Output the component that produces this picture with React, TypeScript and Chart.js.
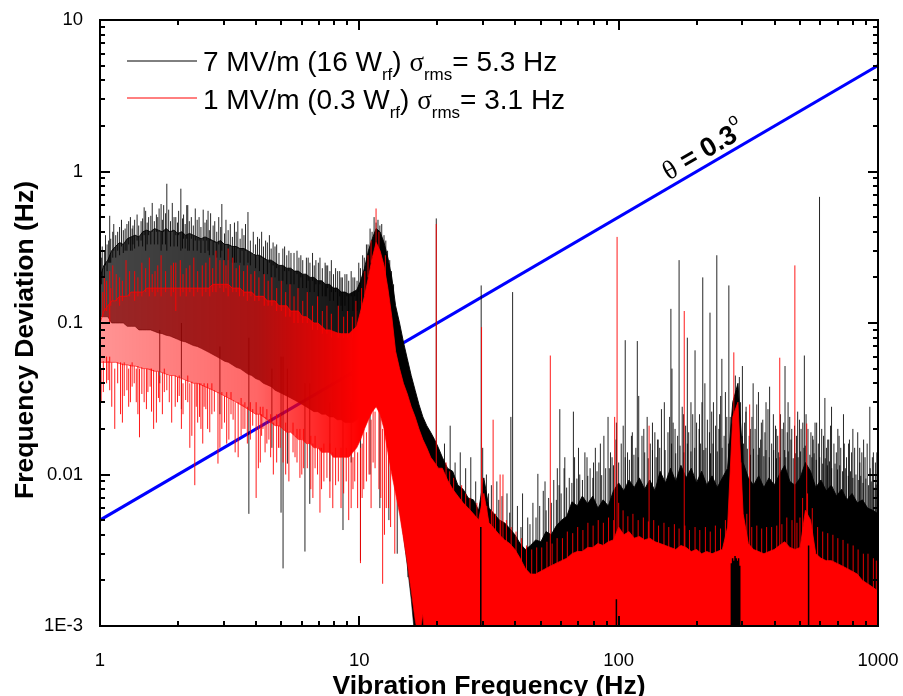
import React, { useEffect, useRef } from "react";
import { Chart, registerables } from "chart.js";

Chart.register(...registerables);

const FONT = '"Liberation Sans", Arial, sans-serif';
const SERIF = '"Liberation Serif", "Times New Roman", serif';

// ---------- spectrum envelopes (shared frequency grid, Hz) ----------
const freqHz = [
  1.0, 1.035, 1.072, 1.109, 1.148, 1.189, 1.23, 1.274, 1.318, 1.365,
  1.413, 1.462, 1.514, 1.567, 1.622, 1.679, 1.738, 1.799, 1.862, 1.928,
  1.995, 2.065, 2.138, 2.213, 2.291, 2.371, 2.455, 2.541, 2.63, 2.723,
  2.818, 2.917, 3.02, 3.126, 3.236, 3.35, 3.467, 3.589, 3.715, 3.846,
  3.981, 4.121, 4.266, 4.416, 4.571, 4.732, 4.898, 5.07, 5.248, 5.433,
  5.623, 5.821, 6.026, 6.237, 6.457, 6.683, 6.918, 7.161, 7.413, 7.674,
  7.943, 8.222, 8.511, 8.81, 9.12, 9.441, 9.772, 10.12, 10.47, 10.84,
  11.22, 11.61, 12.02, 12.45, 12.88, 13.34, 13.8, 14.29, 14.79, 15.31,
  15.85, 16.41, 16.98, 17.58, 18.2, 18.84, 19.5, 20.18,
  20.89, 21.88, 22.91, 23.99, 25.12, 26.3, 27.54, 28.84, 30.2, 31.62,
  33.11, 34.67, 36.31, 38.02, 39.81, 41.69, 43.65, 45.71, 47.86, 50.12,
  52.48, 54.95, 57.54, 60.26, 63.1, 66.07, 69.18, 72.44, 75.86, 79.43,
  83.18, 87.1, 91.2, 95.5, 100.0, 104.7, 109.6, 114.8, 120.2, 125.9,
  131.8, 138.0, 144.5, 151.4, 158.5, 166.0, 173.8, 182.0, 190.5, 199.5,
  208.9, 218.8, 229.1, 239.9, 251.2, 263.0, 275.4, 288.4, 302.0, 316.2,
  331.1, 346.7, 363.1, 380.2, 398.1, 416.9, 436.5, 457.1, 478.6, 501.2,
  524.8, 549.5, 575.4, 602.6, 631.0, 660.7, 691.8, 724.4, 758.6, 794.3,
  831.8, 871.0, 912.0, 955.0, 1000,
];

// 7 MV/m trace: upper and lower edge of the dense noise band (Hz)
const blackHi = [
  0.2, 0.24, 0.26, 0.3, 0.32, 0.34, 0.33, 0.36, 0.37, 0.38,
  0.37, 0.4, 0.41, 0.4, 0.42, 0.41, 0.4, 0.42, 0.4, 0.41,
  0.39, 0.4, 0.38, 0.39, 0.38, 0.37, 0.36, 0.37, 0.36, 0.35,
  0.34, 0.35, 0.33, 0.33, 0.32, 0.32, 0.31, 0.31, 0.3, 0.29,
  0.28, 0.28, 0.27, 0.26, 0.26, 0.25, 0.24, 0.24, 0.23, 0.23,
  0.22, 0.22, 0.21, 0.21, 0.2, 0.2, 0.19, 0.19, 0.18, 0.18,
  0.17, 0.17, 0.16, 0.16, 0.155, 0.16, 0.165, 0.19, 0.23, 0.3,
  0.36, 0.42, 0.4, 0.34, 0.27, 0.2, 0.13, 0.1, 0.075, 0.058,
  0.045, 0.036, 0.029, 0.024, 0.021, 0.019, 0.017, 0.015,
  0.013, 0.011, 0.0105, 0.0085, 0.008, 0.007, 0.0068, 0.0058, 0.0095, 0.006,
  0.0055, 0.005, 0.0048, 0.0044, 0.004, 0.0035, 0.0032, 0.0034, 0.0037, 0.0036,
  0.0042, 0.004, 0.0046, 0.005, 0.0053, 0.0066, 0.0062, 0.0072, 0.0064, 0.0072,
  0.006, 0.0068, 0.0062, 0.0078, 0.0088, 0.0078, 0.0092, 0.0082, 0.0095, 0.008,
  0.0092, 0.0078, 0.0105, 0.0088, 0.011, 0.009, 0.0115, 0.0095, 0.011, 0.0088,
  0.0105, 0.0085, 0.0098, 0.0082, 0.0095, 0.011, 0.03, 0.04, 0.012, 0.0095,
  0.0085, 0.0098, 0.0082, 0.0095, 0.0085, 0.01, 0.0115, 0.009, 0.0085, 0.0095,
  0.012, 0.0105, 0.0082, 0.0092, 0.0078, 0.0085, 0.0072, 0.008, 0.0068, 0.0075,
  0.0065, 0.0068, 0.006, 0.0058, 0.0055,
];
const blackLo = [
  0.11, 0.11, 0.11, 0.1, 0.1, 0.1, 0.1, 0.095, 0.095, 0.095,
  0.09, 0.09, 0.09, 0.09, 0.088, 0.086, 0.085, 0.083, 0.082, 0.08,
  0.078, 0.076, 0.075, 0.073, 0.071, 0.07, 0.068, 0.066, 0.064, 0.062,
  0.06, 0.058, 0.056, 0.055, 0.053, 0.051, 0.05, 0.048, 0.046, 0.045,
  0.043, 0.042, 0.04, 0.039, 0.038, 0.036, 0.035, 0.034, 0.033, 0.032,
  0.031, 0.03, 0.029, 0.028, 0.027, 0.026, 0.026, 0.025, 0.025, 0.024,
  0.024, 0.023, 0.023, 0.022, 0.022, 0.022, 0.023, 0.025, 0.028, 0.03,
  0.033, 0.034, 0.032, 0.025, 0.02, 0.014, 0.009, 0.006, 0.004, 0.0025,
  0.0015, 0.0008, 0.0001, 0.0001, 0.0001, 0.0001, 0.0001, 0.0001,
  0.0001, 0.0001, 0.0001, 0.0001, 0.0001, 0.0001, 0.0001, 0.0001, 0.0001, 0.0001,
  0.0001, 0.0001, 0.0001, 0.0001, 0.0001, 0.0001, 0.0001, 0.0001, 0.0001, 0.0001,
  0.0001, 0.0001, 0.0001, 0.0001, 0.0001, 0.0001, 0.0001, 0.0001, 0.0001, 0.0001,
  0.0001, 0.0001, 0.0001, 0.0001, 0.0001, 0.0001, 0.0001, 0.0001, 0.0001, 0.0001,
  0.0001, 0.0001, 0.0001, 0.0001, 0.0001, 0.0001, 0.0001, 0.0001, 0.0001, 0.0001,
  0.0001, 0.0001, 0.0001, 0.0001, 0.0001, 0.0001, 0.0001, 0.0001, 0.0001, 0.0001,
  0.0001, 0.0001, 0.0001, 0.0001, 0.0001, 0.0001, 0.0001, 0.0001, 0.0001, 0.0001,
  0.0001, 0.0001, 0.0001, 0.0001, 0.0001, 0.0001, 0.0001, 0.0001, 0.0001, 0.0001,
  0.0001, 0.0001, 0.0001, 0.0001, 0.0001,
];

// 1 MV/m trace
const redHi = [
  0.1, 0.12, 0.13, 0.14, 0.14, 0.15, 0.15, 0.15, 0.16, 0.16,
  0.16, 0.16, 0.17, 0.17, 0.17, 0.17, 0.17, 0.17, 0.17, 0.17,
  0.17, 0.17, 0.17, 0.17, 0.17, 0.17, 0.17, 0.17, 0.17, 0.18,
  0.18, 0.18, 0.18, 0.18, 0.17, 0.17, 0.17, 0.16, 0.16, 0.16,
  0.15, 0.15, 0.15, 0.14, 0.14, 0.14, 0.13, 0.13, 0.13, 0.12,
  0.12, 0.12, 0.11, 0.11, 0.105, 0.1, 0.1, 0.095, 0.09, 0.09,
  0.088, 0.086, 0.085, 0.085, 0.085, 0.09, 0.095, 0.12, 0.15, 0.2,
  0.27, 0.34, 0.3, 0.24, 0.17, 0.11, 0.065, 0.05, 0.04, 0.034,
  0.028, 0.024, 0.02, 0.017, 0.015, 0.013, 0.012, 0.011,
  0.011, 0.0092, 0.008, 0.0072, 0.0065, 0.006, 0.0055, 0.005, 0.0075, 0.0048,
  0.0044, 0.004, 0.0037, 0.0035, 0.0032, 0.0028, 0.0024, 0.0022, 0.0022, 0.0023,
  0.0024, 0.0025, 0.0026, 0.0027, 0.0028, 0.003, 0.0031, 0.0031, 0.0033, 0.0033,
  0.0035, 0.0034, 0.0036, 0.0037, 0.0045, 0.004, 0.0042, 0.0038, 0.0039, 0.0037,
  0.0038, 0.0036, 0.0035, 0.0034, 0.0033, 0.0032, 0.0034, 0.0033, 0.0031, 0.0032,
  0.003, 0.0031, 0.003, 0.0031, 0.0032, 0.0045, 0.024, 0.03, 0.0055, 0.0035,
  0.0032, 0.0031, 0.003, 0.0031, 0.0032, 0.0034, 0.0036, 0.0033, 0.0032, 0.0033,
  0.0058, 0.005, 0.003, 0.0028, 0.0027, 0.0027, 0.0026, 0.0025, 0.0024, 0.0023,
  0.0022, 0.002, 0.0019, 0.0018, 0.0017,
];
const redLo = [
  0.055, 0.055, 0.055, 0.055, 0.055, 0.054, 0.053, 0.053, 0.052, 0.052,
  0.051, 0.05, 0.05, 0.049, 0.048, 0.048, 0.047, 0.046, 0.045, 0.045,
  0.044, 0.043, 0.042, 0.041, 0.04, 0.04, 0.039, 0.038, 0.037, 0.036,
  0.035, 0.034, 0.033, 0.032, 0.031, 0.03, 0.029, 0.028, 0.027, 0.026,
  0.025, 0.025, 0.024, 0.023, 0.022, 0.021, 0.021, 0.02, 0.019, 0.019,
  0.018, 0.017, 0.017, 0.016, 0.016, 0.015, 0.015, 0.014, 0.014, 0.014,
  0.013, 0.013, 0.013, 0.013, 0.013, 0.014, 0.015, 0.017, 0.02, 0.023,
  0.026, 0.028, 0.025, 0.02, 0.014, 0.01, 0.0075, 0.0055, 0.0038, 0.0026,
  0.0017, 0.0011, 0.0008, 0.0012, 0.0005, 0.0009, 0.0003, 0.0001,
  0.0001, 0.0001, 0.0001, 0.0001, 0.0001, 0.0001, 0.0001, 0.0001, 0.0001, 0.0001,
  0.0001, 0.0001, 0.0001, 0.0001, 0.0001, 0.0001, 0.0001, 0.0001, 0.0001, 0.0001,
  0.0001, 0.0001, 0.0001, 0.0001, 0.0001, 0.0001, 0.0001, 0.0001, 0.0001, 0.0001,
  0.0001, 0.0001, 0.0001, 0.0001, 0.0001, 0.0001, 0.0001, 0.0001, 0.0001, 0.0001,
  0.0001, 0.0001, 0.0001, 0.0001, 0.0001, 0.0001, 0.0001, 0.0001, 0.0001, 0.0001,
  0.0001, 0.0001, 0.0001, 0.0001, 0.0001, 0.0001, 0.0018, 0.0018, 0.0001, 0.0001,
  0.0001, 0.0001, 0.0001, 0.0001, 0.0001, 0.0001, 0.0001, 0.0001, 0.0001, 0.0001,
  0.0001, 0.0001, 0.0001, 0.0001, 0.0001, 0.0001, 0.0001, 0.0001, 0.0001, 0.0001,
  0.0001, 0.0001, 0.0001, 0.0001, 0.0001,
];

// ---------- individual lines of the 7 MV/m trace ----------
const blackPeakHz = [
  1.02, 1.05, 1.08, 1.09, 1.13, 1.17, 1.21, 1.25, 1.29, 1.31, 1.34, 1.39, 1.44, 1.48, 1.5, 1.54, 1.59, 1.65, 1.69, 1.72,
  1.76, 1.81, 1.84, 1.9, 1.96, 2.01, 2.05, 2.1, 2.16, 2.18, 2.25, 2.33, 2.41, 2.5, 2.58, 2.61, 2.67, 2.77, 2.87, 2.95,
  3.06, 3.18, 3.3, 3.4, 3.53, 3.64, 3.72, 3.9, 4.05, 4.2, 4.35, 4.5, 4.65, 4.8, 5.15, 5.35, 5.6, 5.75, 5.95, 6.35,
  6.6, 6.8, 7.05, 7.38, 7.55, 7.8, 8.1, 8.4, 8.6, 8.95, 9.3, 9.6, 9.95, 10.3, 10.65, 11.0, 11.4, 11.8, 12.2, 12.65,
  13.1, 13.55,
];
const blackPeakTop = [
  0.32, 0.38, 0.35, 0.51, 0.45, 0.4, 0.48, 0.42, 0.47, 0.5, 0.44, 0.52, 0.47, 0.58, 0.55, 0.5, 0.62, 0.52, 0.57, 0.61,
  0.6, 0.83, 0.56, 0.62, 0.5, 0.55, 0.77, 0.52, 0.6, 0.6, 0.5, 0.57, 0.5, 0.56, 0.48, 0.55, 0.53, 0.47, 0.5, 0.61,
  0.48, 0.45, 0.46, 0.47, 0.42, 0.45, 0.54, 0.4, 0.37, 0.4, 0.35, 0.38, 0.34, 0.33, 0.32, 0.3, 0.29, 0.3, 0.28, 0.27,
  0.29, 0.26, 0.27, 0.25, 0.24, 0.26, 0.23, 0.22, 0.2, 0.21, 0.22, 0.2, 0.25, 0.28, 0.33, 0.42, 0.5, 0.48, 0.45, 0.35,
  0.26, 0.18,
];
const blackPeakBase = [
  0.2, 0.24, 0.25, 0.25, 0.3, 0.3, 0.32, 0.3, 0.33, 0.3, 0.33, 0.35, 0.35, 0.38, 0.3, 0.38, 0.4, 0.4, 0.4, 0.3,
  0.4, 0.3, 0.4, 0.4, 0.38, 0.38, 0.3, 0.36, 0.36, 0.3, 0.36, 0.35, 0.35, 0.35, 0.35, 0.3, 0.35, 0.34, 0.33, 0.3,
  0.33, 0.32, 0.25, 0.31, 0.3, 0.3, 0.25, 0.29, 0.28, 0.27, 0.26, 0.25, 0.24, 0.23, 0.22, 0.22, 0.18, 0.21, 0.2, 0.19,
  0.19, 0.18, 0.18, 0.15, 0.17, 0.16, 0.16, 0.15, 0.12, 0.15, 0.15, 0.15, 0.16, 0.2, 0.25, 0.3, 0.38, 0.38, 0.35, 0.25,
  0.17, 0.12,
];
const blackHairHz = [
  1.015, 1.04, 1.065, 1.1, 1.12, 1.15, 1.19, 1.23, 1.27, 1.33, 1.36, 1.41, 1.46, 1.52, 1.57, 1.62, 1.67, 1.74, 1.79, 1.87,
  1.93, 1.99, 2.08, 2.13, 2.21, 2.29, 2.37, 2.45, 2.54, 2.64, 2.73, 2.82, 2.92, 3.02, 3.12, 3.24, 3.35, 3.47, 3.59, 3.8,
  3.98, 4.12, 4.27, 4.42, 4.57, 4.73, 4.9, 5.07, 5.25, 5.45, 5.85, 6.05, 6.25, 6.45, 6.7, 6.95, 7.2, 7.45, 7.7, 7.95,
  8.25, 8.5, 8.8, 9.1, 9.45, 9.8, 10.1, 10.45, 10.8, 11.2, 11.6, 12.0, 12.45, 12.85, 13.3,
];
const blackHairTop = [
  0.27, 0.3, 0.33, 0.36, 0.4, 0.38, 0.43, 0.41, 0.45, 0.42, 0.48, 0.44, 0.49, 0.46, 0.51, 0.47, 0.5, 0.48, 0.53, 0.47,
  0.5, 0.46, 0.49, 0.45, 0.47, 0.44, 0.48, 0.43, 0.46, 0.41, 0.44, 0.4, 0.43, 0.39, 0.41, 0.37, 0.4, 0.36, 0.38, 0.35,
  0.33, 0.36, 0.32, 0.34, 0.31, 0.32, 0.29, 0.31, 0.28, 0.29, 0.27, 0.26, 0.27, 0.25, 0.24, 0.25, 0.23, 0.24, 0.22, 0.21,
  0.22, 0.2, 0.21, 0.19, 0.2, 0.19, 0.23, 0.27, 0.33, 0.4, 0.46, 0.44, 0.38, 0.3, 0.22,
];
const blackHairBase = [
  0.18, 0.2, 0.22, 0.25, 0.27, 0.27, 0.28, 0.29, 0.3, 0.3, 0.31, 0.32, 0.32, 0.33, 0.33, 0.33, 0.33, 0.33, 0.33, 0.32,
  0.32, 0.32, 0.31, 0.31, 0.3, 0.3, 0.3, 0.29, 0.29, 0.28, 0.28, 0.27, 0.27, 0.26, 0.26, 0.25, 0.25, 0.25, 0.24, 0.24,
  0.23, 0.22, 0.21, 0.21, 0.2, 0.2, 0.19, 0.19, 0.18, 0.18, 0.17, 0.17, 0.17, 0.16, 0.16, 0.15, 0.15, 0.15, 0.14, 0.14,
  0.13, 0.13, 0.13, 0.12, 0.12, 0.12, 0.14, 0.17, 0.22, 0.27, 0.32, 0.32, 0.28, 0.2, 0.14,
];
const blackDipHz = [1.7, 2.06, 2.9, 3.75, 4.6, 4.99, 5.08, 5.28, 6.17, 6.44, 7.7, 8.65, 9.3, 10.1, 11.0, 12.0, 13.0, 14.0, 15.4];
const blackDipTop = [0.09, 0.1, 0.07, 0.08, 0.05, 0.06, 0.06, 0.05, 0.04, 0.04, 0.03, 0.03, 0.03, 0.03, 0.03, 0.03, 0.02, 0.012, 0.01];
const blackDipBottom = [0.04, 0.027, 0.025, 0.0055, 0.015, 0.0056, 0.0024, 0.0118, 0.0031, 0.0064, 0.009, 0.0043, 0.012, 0.0027, 0.01, 0.006, 0.005, 0.003, 0.0021];
const blackSpikeHz = [
  19.8, 29.5, 38.4, 39, 42.6, 48.8, 52, 58, 59.3, 62, 66.9, 70, 75.5, 80, 85, 91, 93, 98, 106, 112,
  118, 119.5, 125, 135, 142, 150, 159, 160.5, 165, 171, 178, 184, 190, 197, 205, 211, 215, 225, 232, 239,
  245, 250, 258, 266, 292, 300, 310, 322, 330, 346, 355, 370, 382, 395, 405, 438, 450, 465, 490, 505,
  520, 560, 580, 595, 624, 640, 662, 700, 736, 770, 800, 850, 880, 930, 960,
];
const blackSpikeTop = [
  0.49, 0.177, 0.024, 0.16, 0.0075, 0.0101, 0.009, 0.011, 0.027, 0.013, 0.026, 0.015, 0.013, 0.012, 0.016, 0.024, 0.014, 0.022, 0.077, 0.018,
  0.076, 0.033, 0.02, 0.022, 0.017, 0.03, 0.124, 0.05, 0.02, 0.26, 0.025, 0.08, 0.03, 0.066, 0.025, 0.2, 0.04, 0.117, 0.03, 0.28,
  0.025, 0.058, 0.035, 0.177, 0.044, 0.052, 0.028, 0.02, 0.04, 0.035, 0.022, 0.03, 0.038, 0.025, 0.02, 0.052, 0.03, 0.02, 0.026, 0.02,
  0.061, 0.018, 0.022, 0.68, 0.032, 0.017, 0.028, 0.02, 0.025, 0.016, 0.02, 0.015, 0.017, 0.028, 0.014,
];
const blackFuzzHz = [
  21.3, 22.4, 23.4, 24.5, 25.7, 26.9, 28.1, 29.9, 30.9, 32.3,
  33.9, 35.5, 37.1, 40.7, 44.6, 46.7, 49.6, 51.2, 53.7, 56.2,
  58.9, 61.6, 64.5, 67.6, 70.8, 74.1, 77.6, 81.3, 83.9, 87.7,
  89.1, 94.3, 97.7, 102.3, 104.1, 108.2, 112.9, 116.5, 123, 128.8,
  132.4, 137.9, 141.3, 146.2, 154.9, 157.2, 162.2, 168.8, 175.8, 181.2,
  186.2, 193, 199.7, 204.2, 209.5, 219.8, 223.9, 228.4, 236.4, 243.5,
  247.3, 255, 261.2, 269.2, 281.8, 295.1, 306, 309.5, 318.6, 326.6,
  335.8, 340.8, 352.8, 359.5, 366.5, 376.5, 389, 402.4, 410.6, 420.6,
  426.6, 432.7, 446.7, 456.7, 461.7, 476.7, 484.8, 497.9, 512.9, 528,
  537, 551.3, 562.3, 571.8, 588.8, 606.6, 616.6, 632.7, 645.7, 656.1,
  676.1, 690.9, 707.9, 718.3, 741.3, 756.2, 776.2, 790.8, 812.8, 835.1,
  851.1, 866.3, 891.3, 908.3, 933.3, 951.2, 977.2, 990,
];
const blackFuzzTop = [
  0.016, 0.021, 0.012, 0.014, 0.011, 0.013, 0.009, 0.015, 0.01, 0.0085,
  0.009, 0.0072, 0.0075, 0.0062, 0.0052, 0.0065, 0.0062, 0.0078, 0.007, 0.0092,
  0.0085, 0.011, 0.0095, 0.013, 0.01, 0.014, 0.011, 0.015, 0.012, 0.018,
  0.011, 0.013, 0.017, 0.016, 0.021, 0.014, 0.019, 0.015, 0.018, 0.024,
  0.016, 0.019, 0.017, 0.027, 0.019, 0.024, 0.022, 0.018, 0.028, 0.021,
  0.019, 0.025, 0.022, 0.02, 0.03, 0.023, 0.019, 0.026, 0.021, 0.02,
  0.033, 0.018, 0.024, 0.024, 0.045, 0.03, 0.022, 0.026, 0.018, 0.024,
  0.02, 0.029, 0.017, 0.023, 0.019, 0.027, 0.016, 0.021, 0.018, 0.025,
  0.02, 0.022, 0.019, 0.024, 0.017, 0.021, 0.018, 0.023, 0.022, 0.025,
  0.02, 0.019, 0.017, 0.022, 0.016, 0.02, 0.018, 0.015, 0.017, 0.021,
  0.016, 0.014, 0.018, 0.015, 0.016, 0.013, 0.017, 0.014, 0.015, 0.019,
  0.012, 0.014, 0.013, 0.016, 0.011, 0.013, 0.012, 0.014,
];
const blackGrassHz = [
  31.5, 34.5, 38, 42, 45.5, 48, 52.5, 55, 57.5, 60,
  63, 66, 69, 72.5, 76, 79.5, 82.5, 86, 92, 95.5,
  100, 106, 110, 114.5, 119, 126, 130, 135, 139.5, 144,
  151, 160, 166, 172.5, 178.5, 184, 190, 196.5, 207, 213,
  217, 226, 231, 240, 250.5, 265, 300, 303, 313.5, 322.5,
  331, 345, 349, 363, 370, 381, 396, 406, 414, 418,
  436.5, 441, 451, 471, 480, 492, 503, 518, 524, 546,
  556, 567, 578, 596, 612, 626, 638, 650, 663, 683,
  698, 712, 730, 748, 768, 783, 800, 822, 843, 858,
  875, 898, 920, 942, 965, 984,
];
const blackGrassTop = [
  0.0075, 0.0068, 0.0056, 0.0045, 0.0047, 0.0052, 0.0058, 0.0065, 0.0068, 0.0075,
  0.0082, 0.0088, 0.0094, 0.0092, 0.0098, 0.0095, 0.0105, 0.0099, 0.011, 0.0115,
  0.012, 0.013, 0.0125, 0.0135, 0.013, 0.014, 0.0128, 0.0145, 0.013, 0.015,
  0.0145, 0.016, 0.0138, 0.0155, 0.014, 0.016, 0.0142, 0.015, 0.016, 0.0145,
  0.015, 0.0138, 0.016, 0.0142, 0.015, 0.016, 0.018, 0.016, 0.0148, 0.0135,
  0.0148, 0.0135, 0.015, 0.0132, 0.0145, 0.013, 0.0145, 0.0128, 0.014, 0.013,
  0.0145, 0.013, 0.0142, 0.0128, 0.0138, 0.013, 0.0142, 0.015, 0.0155, 0.0135,
  0.013, 0.0138, 0.0125, 0.013, 0.0118, 0.0128, 0.0115, 0.0122, 0.011, 0.0118,
  0.0108, 0.0115, 0.0105, 0.011, 0.0098, 0.0105, 0.0095, 0.01, 0.0092, 0.0098,
  0.0088, 0.0094, 0.0085, 0.009, 0.0082, 0.0086,
];
// narrow places where the 1 MV/m trace drops and the 7 MV/m trace shows through
const blackGapHz = [29.4, 98, 272, 275, 278, 281, 284, 287, 290, 293, 540];
const blackGapTop = [0.0045, 0.0015, 0.0026, 0.0028, 0.0027, 0.0029, 0.0028, 0.0027, 0.0028, 0.0025, 0.0034];

// ---------- individual lines of the 1 MV/m trace ----------
const redPeakHz = [
  1.04, 1.09, 1.12, 1.19, 1.26, 1.36, 1.45, 1.55, 1.63, 1.72, 1.88, 1.96, 2.04, 2.15, 2.3, 2.48, 2.65, 2.8, 3.0, 3.12,
  3.25, 3.45, 3.7, 3.95, 4.3, 4.6, 5.0, 5.4, 5.8, 6.3, 6.9, 7.5, 8.3, 9.0, 9.7, 10.5, 11.1, 11.6, 11.9, 12.6,
];
const redPeakTop = [
  0.2, 0.22, 0.24, 0.2, 0.26, 0.22, 0.25, 0.27, 0.22, 0.28, 0.24, 0.25, 0.26, 0.23, 0.27, 0.24, 0.27, 0.3, 0.26, 0.31,
  0.27, 0.24, 0.24, 0.22, 0.21, 0.2, 0.19, 0.18, 0.17, 0.16, 0.15, 0.13, 0.13, 0.12, 0.14, 0.22, 0.35, 0.57, 0.4, 0.28,
];
const redPeakBase = [
  0.12, 0.1, 0.14, 0.13, 0.15, 0.14, 0.15, 0.15, 0.15, 0.15, 0.15, 0.12, 0.15, 0.15, 0.15, 0.15, 0.15, 0.16, 0.16, 0.15,
  0.16, 0.15, 0.14, 0.14, 0.13, 0.13, 0.12, 0.11, 0.1, 0.1, 0.09, 0.085, 0.08, 0.08, 0.09, 0.15, 0.25, 0.3, 0.3, 0.2,
];
const redHairUpHz = [
  1.025, 1.06, 1.1, 1.155, 1.22, 1.3, 1.4, 1.5, 1.59, 1.67, 1.79, 1.92, 2.09, 2.22, 2.38, 2.56, 2.72, 2.9, 3.06, 3.35,
  3.58, 3.82, 4.1, 4.45, 4.8, 5.2, 5.6, 6.05, 6.6, 7.2, 7.8, 8.7, 9.4, 10.2, 10.8,
];
const redHairUpTop = [
  0.16, 0.19, 0.17, 0.21, 0.19, 0.22, 0.2, 0.23, 0.21, 0.24, 0.22, 0.25, 0.21, 0.24, 0.22, 0.25, 0.23, 0.26, 0.24, 0.23,
  0.22, 0.21, 0.2, 0.19, 0.17, 0.16, 0.15, 0.14, 0.13, 0.12, 0.115, 0.11, 0.11, 0.17, 0.28,
];
const redHairUpBase = [
  0.11, 0.12, 0.13, 0.14, 0.14, 0.15, 0.15, 0.16, 0.16, 0.16, 0.16, 0.16, 0.16, 0.16, 0.16, 0.16, 0.16, 0.17, 0.17, 0.16,
  0.15, 0.15, 0.14, 0.13, 0.12, 0.11, 0.1, 0.1, 0.09, 0.085, 0.08, 0.08, 0.08, 0.12, 0.2,
];
const redDipHz = [
  1.01, 1.06, 1.09, 1.14, 1.2, 1.24, 1.29, 1.33, 1.38, 1.42, 1.48, 1.53, 1.58, 1.65, 1.7, 1.77, 1.85, 1.95, 2.02, 2.09,
  2.18, 2.22, 2.32, 2.38, 2.45, 2.52, 2.6, 2.7, 2.85, 2.95, 3.08, 3.2, 3.32, 3.5, 3.62, 3.8, 4.0, 4.15, 4.25, 4.4,
  4.55, 4.8, 4.95, 5.2, 5.55, 5.75, 5.9, 6.1, 6.5, 6.75, 7.05, 7.3, 7.7, 8.1, 8.5, 8.9, 9.3, 9.6, 10.1, 10.4,
  10.9, 11.3, 11.9, 12.3, 12.7, 13.2, 13.7,
];
const redDipTop = [
  0.05, 0.06, 0.06, 0.05, 0.055, 0.055, 0.05, 0.055, 0.05, 0.05, 0.05, 0.05, 0.05, 0.048, 0.045, 0.05, 0.045, 0.045, 0.045, 0.04,
  0.045, 0.04, 0.04, 0.04, 0.04, 0.04, 0.04, 0.04, 0.035, 0.035, 0.035, 0.035, 0.03, 0.032, 0.03, 0.03, 0.03, 0.028, 0.028, 0.027,
  0.025, 0.025, 0.025, 0.022, 0.022, 0.02, 0.02, 0.02, 0.018, 0.018, 0.015, 0.016, 0.016, 0.015, 0.015, 0.015, 0.015, 0.015, 0.015, 0.02,
  0.025, 0.028, 0.028, 0.02, 0.018, 0.012, 0.009,
];
const redDipBottom = [
  0.03, 0.04, 0.036, 0.02, 0.025, 0.033, 0.028, 0.038, 0.03, 0.0176, 0.03, 0.035, 0.026, 0.022, 0.03, 0.035, 0.03, 0.028, 0.033, 0.025,
  0.03, 0.015, 0.0085, 0.022, 0.02, 0.028, 0.02, 0.025, 0.0118, 0.02, 0.016, 0.025, 0.014, 0.018, 0.02, 0.017, 0.007, 0.012, 0.02, 0.016,
  0.013, 0.012, 0.015, 0.01, 0.014, 0.012, 0.0095, 0.011, 0.008, 0.011, 0.0056, 0.009, 0.007, 0.0085, 0.006, 0.009, 0.006, 0.009, 0.0026, 0.008,
  0.01, 0.012, 0.008, 0.0019, 0.006, 0.0045, 0.003,
];
const redHairDownHz = [
  1.03, 1.075, 1.11, 1.17, 1.22, 1.27, 1.31, 1.355, 1.4, 1.45, 1.51, 1.56, 1.61, 1.68, 1.74, 1.81, 1.89, 1.99, 2.06, 2.14,
  2.26, 2.35, 2.42, 2.49, 2.56, 2.65, 2.76, 2.9, 3.02, 3.14, 3.26, 3.41, 3.56, 3.7, 3.88, 4.08, 4.2, 4.33, 4.48, 4.66,
  4.88, 5.08, 5.35, 5.65, 6.0, 6.3, 6.62, 6.9, 7.15, 7.5, 7.9, 8.3, 8.7, 9.1, 9.45, 9.85, 10.25, 10.65, 11.1, 11.5,
  12.1, 12.5, 12.95,
];
const redHairDownTop = [
  0.056, 0.056, 0.055, 0.055, 0.054, 0.053, 0.053, 0.052, 0.052, 0.051, 0.05, 0.05, 0.049, 0.048, 0.047, 0.046, 0.045, 0.044, 0.043, 0.042,
  0.041, 0.04, 0.04, 0.039, 0.038, 0.037, 0.036, 0.034, 0.033, 0.032, 0.031, 0.03, 0.029, 0.028, 0.027, 0.025, 0.025, 0.024, 0.023, 0.022,
  0.021, 0.02, 0.019, 0.018, 0.017, 0.016, 0.016, 0.015, 0.015, 0.014, 0.014, 0.013, 0.013, 0.013, 0.013, 0.014, 0.016, 0.019, 0.023, 0.026,
  0.026, 0.02, 0.014,
];
const redHairDownBottom = [
  0.035, 0.042, 0.028, 0.04, 0.022, 0.036, 0.03, 0.04, 0.025, 0.034, 0.027, 0.038, 0.02, 0.032, 0.025, 0.036, 0.022, 0.03, 0.02, 0.031,
  0.018, 0.028, 0.024, 0.016, 0.027, 0.019, 0.026, 0.015, 0.022, 0.017, 0.023, 0.013, 0.02, 0.016, 0.021, 0.011, 0.018, 0.014, 0.017, 0.01,
  0.015, 0.012, 0.009, 0.013, 0.01, 0.011, 0.007, 0.01, 0.008, 0.0095, 0.006, 0.009, 0.0075, 0.005, 0.008, 0.006, 0.007, 0.009, 0.006, 0.011,
  0.007, 0.004, 0.006,
];
const redSpikeHz = [19.8, 29.6, 32.8, 34.9, 35.8, 54.5, 96.5, 98.6, 131, 179, 278, 320, 418, 478, 531];
const redSpikeTop = [0.45, 0.094, 0.023, 0.01, 0.01, 0.061, 0.024, 0.37, 0.021, 0.12, 0.064, 0.029, 0.059, 0.24, 0.0217];
const redFuzzHz = [
  21.6, 23.1, 24.8, 26.7, 28.4, 31, 33.5, 36.9, 40.2, 44.1, 48.3, 52.9, 57.9, 63.4, 69.5, 76.1, 83.4, 91.4, 104, 113.5,
  124.5, 136.5, 149.5, 164, 180, 197, 216, 236, 258, 312, 341, 372, 407, 445, 487, 512, 558, 612, 670, 733,
  802, 878, 960,
];
const redFuzzTop = [
  0.012, 0.0095, 0.0085, 0.007, 0.0065, 0.0062, 0.0055, 0.005, 0.0042, 0.0034, 0.0033, 0.0036, 0.0038, 0.0042, 0.0045, 0.0048, 0.005, 0.0052, 0.0058, 0.0055,
  0.0052, 0.005, 0.0048, 0.0047, 0.0046, 0.0045, 0.0045, 0.0046, 0.005, 0.0055, 0.0046, 0.0045, 0.0046, 0.0052, 0.0048, 0.007, 0.006, 0.0042, 0.004, 0.0037,
  0.0034, 0.003, 0.0028,
];
const redGrassHz = [
  22.3, 25.7, 29.8, 32.3, 35.1, 38.5, 42.2, 46.2, 50.5, 55.4, 60.7, 66.5, 72.8, 79.7, 87.3, 95.7, 100, 108.5, 118.9, 130.2,
  142.5, 156, 171, 187.5, 205.5, 225.5, 247, 268, 296, 326, 356, 389, 426, 466, 500, 535, 585, 640, 700, 765,
  838, 915, 985,
];
const redGrassTop = [
  0.0105, 0.0075, 0.0095, 0.0058, 0.005, 0.0045, 0.0038, 0.0032, 0.0033, 0.0035, 0.0038, 0.0041, 0.0043, 0.0046, 0.0048, 0.005, 0.0065, 0.0053, 0.005, 0.0049,
  0.0046, 0.0045, 0.0044, 0.0043, 0.0043, 0.0042, 0.0044, 0.007, 0.012, 0.0045, 0.0044, 0.0045, 0.0047, 0.005, 0.0052, 0.0075, 0.0045, 0.0041, 0.0038, 0.0035,
  0.0032, 0.003, 0.0027,
];

const spikeFloor = 0.0001;

// θ = 0.3° reference line
const thetaLineHz = [1, 1000];
const thetaLineDev = [0.005, 5];
const thetaLabelAt = [156, 0.87];

// axes
const xTickValues = [1, 10, 100, 1000];
const xTickLabels = ["1", "10", "100", "1000"];
const yTickValues = [0.001, 0.01, 0.1, 1, 10];
const yTickLabels = ["1E-3", "0.01", "0.1", "1", "10"];
const minorSteps = [2, 3, 4, 5, 6, 7, 8, 9];
const xTitle = "Vibration Frequency (Hz)";
const yTitle = "Frequency Deviation (Hz)";

type Run = [string, string];
const legendRows: { color: string; runs: Run[] }[] = [
  { color: "#000000", runs: [["7 MV/m (16 W", "t"], ["rf", "s"], [") ", "t"], ["σ", "g"], ["rms", "s"], ["= 5.3 Hz", "t"]] },
  { color: "#ff0000", runs: [["1 MV/m (0.3 W", "t"], ["rf", "s"], [") ", "t"], ["σ", "g"], ["rms", "s"], ["= 3.1 Hz", "t"]] },
];
const thetaRuns: Run[] = [["θ", "g"], [" = 0.3", "b"], ["o", "sup"]];

const runStyles: Record<string, { font: string; dy: number }> = {
  t: { font: `28px ${FONT}`, dy: 0 },
  s: { font: `17px ${FONT}`, dy: 9 },
  g: { font: `27px ${SERIF}`, dy: 0 },
  b: { font: `bold 27px ${FONT}`, dy: 0 },
  sup: { font: `17px ${FONT}`, dy: -15 },
};

function drawRuns(ctx: CanvasRenderingContext2D, x: number, y: number, runs: Run[]) {
  ctx.textAlign = "left";
  ctx.textBaseline = "alphabetic";
  ctx.fillStyle = "#000";
  for (const [text, kind] of runs) {
    const st = runStyles[kind];
    ctx.font = st.font;
    ctx.fillText(text, x, y + st.dy);
    x += ctx.measureText(text).width;
  }
}

const pts = (ys: number[]) => freqHz.map((f, i) => ({ x: f, y: ys[i] }));
const segs = (fs: number[], tops: number[], bottoms: number[] | null) =>
  fs.flatMap((f, i) => [
    { x: f, y: bottoms ? bottoms[i] : spikeFloor },
    { x: f, y: tops[i] },
    { x: f, y: null as any },
  ]);

function shade(chart: any, rgb: string, stopsHz: number[], alphas: number[]) {
  const area = chart.chartArea;
  const xs = chart.scales.x;
  if (!area || !xs) return `rgba(${rgb},1)`;
  const g = chart.ctx.createLinearGradient(area.left, 0, area.right, 0);
  stopsHz.forEach((f, i) => {
    const p = (xs.getPixelForValue(f) - area.left) / (area.right - area.left);
    g.addColorStop(Math.min(1, Math.max(0, p)), `rgba(${rgb},${alphas[i]})`);
  });
  return g;
}

const framePlugin = {
  id: "frameTicks",
  afterDraw(chart: any) {
    const { ctx, chartArea: a, scales } = chart;
    const xs = scales.x;
    const ys = scales.y;
    ctx.save();
    ctx.strokeStyle = "#000";
    ctx.lineWidth = 2;
    ctx.strokeRect(a.left, a.top, a.right - a.left, a.bottom - a.top);
    ctx.beginPath();
    xTickValues.forEach((d) => {
      [1, ...minorSteps].forEach((m) => {
        const v = d * m;
        if (v > xTickValues[xTickValues.length - 1]) return;
        const px = Math.round(xs.getPixelForValue(v));
        const len = m === 1 ? 10 : 5;
        ctx.moveTo(px, a.bottom);
        ctx.lineTo(px, a.bottom - len);
        ctx.moveTo(px, a.top);
        ctx.lineTo(px, a.top + len);
      });
    });
    yTickValues.forEach((d) => {
      [1, ...minorSteps].forEach((m) => {
        const v = d * m;
        if (v > yTickValues[yTickValues.length - 1]) return;
        const py = Math.round(ys.getPixelForValue(v));
        const len = m === 1 ? 10 : 5;
        ctx.moveTo(a.left, py);
        ctx.lineTo(a.left + len, py);
        ctx.moveTo(a.right, py);
        ctx.lineTo(a.right - len, py);
      });
    });
    ctx.stroke();

    // axis titles
    ctx.fillStyle = "#000";
    ctx.font = `bold 26.5px ${FONT}`;
    ctx.textAlign = "center";
    ctx.textBaseline = "alphabetic";
    ctx.fillText(xTitle, (a.left + a.right) / 2, a.bottom + 68);
    ctx.save();
    ctx.translate(33, (a.top + a.bottom) / 2 + 17);
    ctx.rotate(-Math.PI / 2);
    ctx.fillText(yTitle, 0, 0);
    ctx.restore();

    // legend
    legendRows.forEach((row, i) => {
      const ly = a.top + 41 + i * 37;
      ctx.strokeStyle = row.color;
      ctx.lineWidth = 1;
      ctx.beginPath();
      ctx.moveTo(a.left + 27, ly);
      ctx.lineTo(a.left + 97, ly);
      ctx.stroke();
      drawRuns(ctx, a.left + 103, a.top + 51 + i * 38, row.runs);
    });

    // θ label along the reference line
    const p1x = xs.getPixelForValue(thetaLineHz[0]);
    const p1y = ys.getPixelForValue(thetaLineDev[0]);
    const p2x = xs.getPixelForValue(thetaLineHz[1]);
    const p2y = ys.getPixelForValue(thetaLineDev[1]);
    const ang = Math.atan2(p2y - p1y, p2x - p1x);
    ctx.save();
    ctx.translate(xs.getPixelForValue(thetaLabelAt[0]), ys.getPixelForValue(thetaLabelAt[1]));
    ctx.rotate(ang);
    drawRuns(ctx, 0, 0, thetaRuns);
    ctx.restore();
    ctx.restore();
  },
};

export default function App() {
  const ref = useRef<HTMLCanvasElement>(null);
  useEffect(() => {
    document.body.style.margin = "0";
    const canvas = ref.current;
    if (!canvas) return;
    Chart.defaults.font.family = FONT;
    const line = { pointRadius: 0, tension: 0, spanGaps: false };
    const chart = new Chart(canvas, {
      type: "line",
      data: {
        datasets: [
          {
            ...line,
            data: thetaLineHz.map((f, i) => ({ x: f, y: thetaLineDev[i] })),
            borderColor: "#0000ff",
            borderWidth: 3,
            fill: false,
            order: 10,
          },
          {
            ...line,
            data: [
              ...segs(blackPeakHz, blackPeakTop, blackPeakBase),
              ...segs(blackHairHz, blackHairTop, blackHairBase),
              ...segs(blackDipHz, blackDipTop, blackDipBottom),
              ...segs(blackSpikeHz, blackSpikeTop, null),
              ...segs(blackFuzzHz, blackFuzzTop, null),
              ...segs(blackGrassHz, blackGrassTop, null),
            ],
            borderColor: "rgba(0,0,0,0.85)",
            borderWidth: 1,
            fill: false,
            order: 9,
          },
          {
            ...line,
            data: pts(blackLo),
            borderColor: "rgba(0,0,0,0.6)",
            borderWidth: 1,
            fill: false,
            order: 8,
          },
          {
            ...line,
            data: pts(blackHi),
            borderColor: "rgba(0,0,0,0.9)",
            borderWidth: 1,
            fill: 2,
            backgroundColor: (c: any) => shade(c.chart, "0,0,0", [1, 4, 9, 12], [0.72, 0.82, 0.92, 1]),
            order: 7,
          },
          {
            ...line,
            data: [
              ...segs(redPeakHz, redPeakTop, redPeakBase),
              ...segs(redHairUpHz, redHairUpTop, redHairUpBase),
              ...segs(redDipHz, redDipTop, redDipBottom),
              ...segs(redHairDownHz, redHairDownTop, redHairDownBottom),
              ...segs(redSpikeHz, redSpikeTop, null),
              ...segs(redFuzzHz, redFuzzTop, null),
              ...segs(redGrassHz, redGrassTop, null),
            ],
            borderColor: "rgba(255,0,0,0.9)",
            borderWidth: 1,
            fill: false,
            order: 6,
          },
          {
            ...line,
            data: pts(redLo),
            borderColor: "rgba(255,0,0,0.6)",
            borderWidth: 1,
            fill: false,
            order: 5,
          },
          {
            ...line,
            data: pts(redHi),
            borderColor: "rgba(255,0,0,0.8)",
            borderWidth: 1,
            fill: 5,
            backgroundColor: (c: any) => shade(c.chart, "255,0,0", [1, 4, 7, 10], [0.42, 0.6, 0.85, 1]),
            order: 4,
          },
          {
            ...line,
            data: segs(blackGapHz, blackGapTop, null),
            borderColor: "#000000",
            borderWidth: 1.5,
            fill: false,
            order: 3,
          },
        ] as any,
      },
      options: {
        responsive: false,
        animation: false,
        events: [],
        layout: { padding: { top: 20, right: 25, left: 0, bottom: 0 } },
        plugins: { legend: { display: false }, tooltip: { enabled: false }, title: { display: false } },
        scales: {
          x: {
            type: "logarithmic",
            min: 1,
            max: 1000,
            grid: { display: false, drawTicks: false },
            border: { display: false },
            ticks: {
              color: "#000",
              font: { size: 18.5, family: FONT },
              padding: 24,
              autoSkip: false,
              maxRotation: 0,
              callback: (_v: any, i: number) => xTickLabels[i] ?? "",
            },
            afterBuildTicks: (s: any) => {
              s.ticks = xTickValues.map((v) => ({ value: v }));
            },
            afterFit: (s: any) => {
              s.height = 70;
              s.paddingLeft = 0;
              s.paddingRight = 0;
            },
          },
          y: {
            type: "logarithmic",
            min: 0.001,
            max: 10,
            grid: { display: false, drawTicks: false },
            border: { display: false },
            ticks: {
              color: "#000",
              font: { size: 18.5, family: FONT },
              padding: 17,
              autoSkip: false,
              callback: (_v: any, i: number) => yTickLabels[i] ?? "",
            },
            afterBuildTicks: (s: any) => {
              s.ticks = yTickValues.map((v) => ({ value: v }));
            },
            afterFit: (s: any) => {
              s.width = 100;
              s.paddingTop = 0;
              s.paddingBottom = 0;
            },
          },
        },
      } as any,
      plugins: [framePlugin],
    });
    return () => chart.destroy();
  }, []);
  return <canvas ref={ref} width={903} height={696} style={{ display: "block", width: 903, height: 696 }} />;
}
